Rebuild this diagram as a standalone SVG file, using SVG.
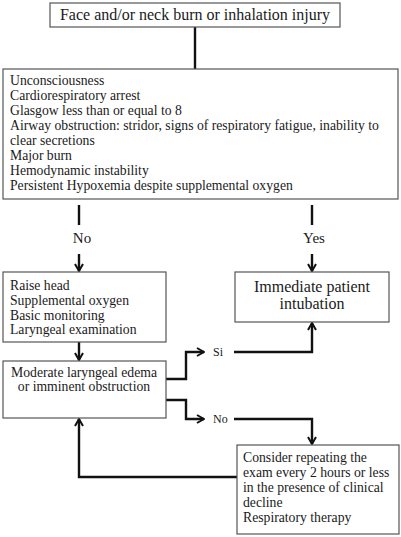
<svg xmlns="http://www.w3.org/2000/svg" width="401" height="537" viewBox="0 0 401 537">
<defs>
<style>
.box{fill:#fff;stroke:#555;stroke-width:1.2}
.t{font-family:"Liberation Serif","Times New Roman",serif;font-size:13.7px;fill:#1a1a1a}
.big{font-size:16px}
.lab{font-size:15px}
.sm{font-size:12px}
.c{fill:none;stroke:#111;stroke-width:2.4}
</style>
<marker id="ah" viewBox="0 0 10 10" refX="9" refY="5" markerWidth="10" markerHeight="10" markerUnits="userSpaceOnUse" orient="auto">
<polyline points="2,1 9,5 2,9" fill="none" stroke="#111" stroke-width="2"/>
</marker>
</defs>
<rect width="401" height="537" fill="#fff"/>
<g id="connectors">
<line class="c" x1="195" y1="27" x2="195" y2="69" stroke-width="3"/>
<line class="c" x1="79" y1="205" x2="79" y2="225"/>
<line class="c" x1="312" y1="205" x2="312" y2="225"/>
<line class="c" x1="79" y1="254" x2="79" y2="271" marker-end="url(#ah)"/>
<line class="c" x1="312" y1="254" x2="312" y2="271" marker-end="url(#ah)"/>
<line class="c" x1="79" y1="342" x2="79" y2="360" marker-end="url(#ah)"/>
<polyline class="c" points="166,379 186,379 186,352 204,352" marker-end="url(#ah)"/>
<polyline class="c" points="234,352 312,352 312,323" marker-end="url(#ah)"/>
<polyline class="c" points="166,400 186,400 186,419 204,419" marker-end="url(#ah)"/>
<polyline class="c" points="234,419 312,419 312,444" marker-end="url(#ah)"/>
<polyline class="c" points="237,477 79,477 79,419" marker-end="url(#ah)"/>
<text class="t lab" x="82" y="243" text-anchor="middle">No</text>
<text class="t lab" x="314" y="243" text-anchor="middle">Yes</text>
<text class="t sm" x="213" y="356">Si</text>
<text class="t sm" x="213" y="423">No</text>
</g>
<g id="n1">
<rect class="box" x="50" y="3" width="290" height="24"/>
<text class="t big" x="195" y="20" text-anchor="middle">Face and/or neck burn or inhalation injury</text>
</g>
<g id="n2">
<rect class="box" x="3" y="69" width="395" height="130"/>
<text class="t" x="10" y="85">Unconsciousness</text>
<text class="t" x="10" y="100">Cardiorespiratory arrest</text>
<text class="t" x="10" y="115">Glasgow less than or equal to 8</text>
<text class="t" x="10" y="130">Airway obstruction: stridor, signs of respiratory fatigue, inability to</text>
<text class="t" x="10" y="145">clear secretions</text>
<text class="t" x="10" y="160">Major burn</text>
<text class="t" x="10" y="175">Hemodynamic instability</text>
<text class="t" x="10" y="190">Persistent Hypoxemia despite supplemental oxygen</text>
</g>
<g id="n3">
<rect class="box" x="3" y="272" width="163" height="70"/>
<text class="t" x="10" y="290">Raise head</text>
<text class="t" x="10" y="305">Supplemental oxygen</text>
<text class="t" x="10" y="320">Basic monitoring</text>
<text class="t" x="10" y="334">Laryngeal examination</text>
</g>
<g id="n4">
<rect class="box" x="235" y="272" width="154" height="50"/>
<text class="t big" x="312" y="292" text-anchor="middle">Immediate patient</text>
<text class="t big" x="312" y="309" text-anchor="middle">intubation</text>
</g>
<g id="n5">
<rect class="box" x="3" y="361" width="163" height="57"/>
<text class="t" x="84" y="377" text-anchor="middle">Moderate laryngeal edema</text>
<text class="t" x="84" y="391" text-anchor="middle">or imminent obstruction</text>
</g>
<g id="n6">
<rect class="box" x="237" y="445" width="162" height="89"/>
<text class="t" x="243" y="462">Consider repeating the</text>
<text class="t" x="243" y="477">exam every 2 hours or less</text>
<text class="t" x="243" y="492">in the presence of clinical</text>
<text class="t" x="243" y="507">decline</text>
<text class="t" x="243" y="522">Respiratory therapy</text>
</g>
</svg>
